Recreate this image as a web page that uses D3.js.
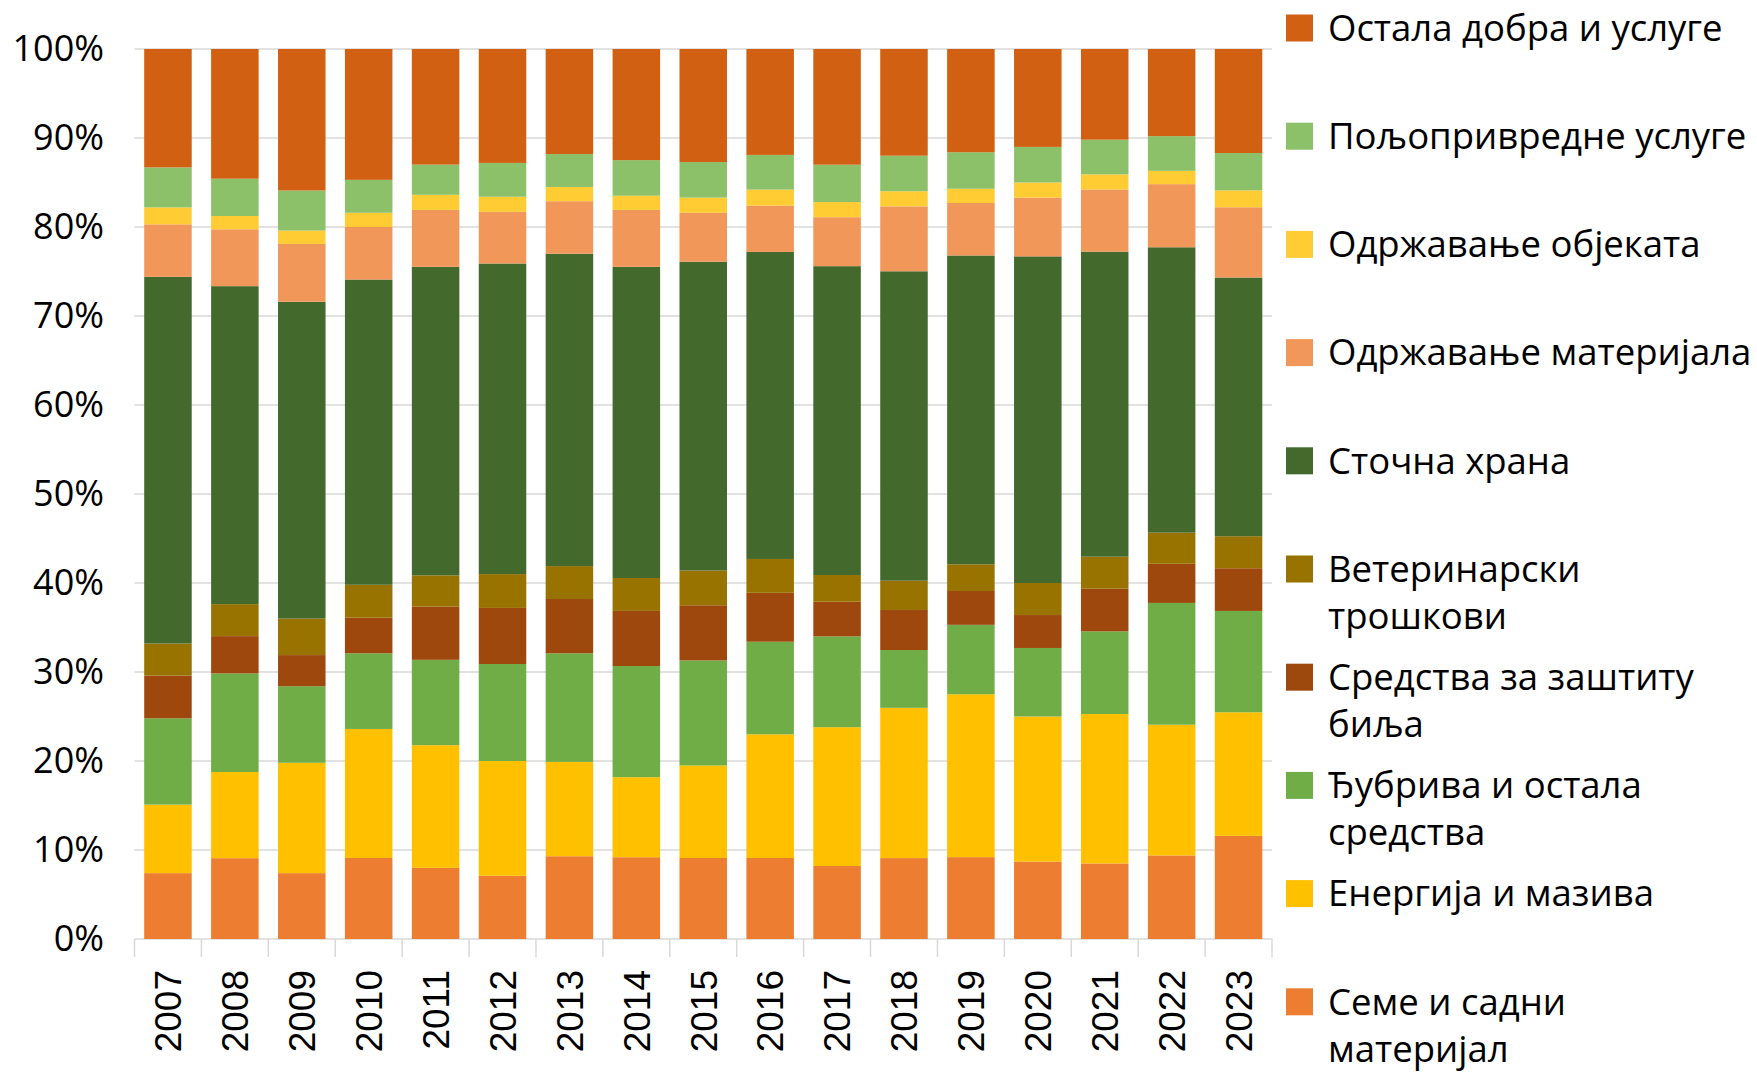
<!DOCTYPE html>
<html>
<head>
<meta charset="utf-8">
<script src="https://cdn.jsdelivr.net/npm/d3@7"></script>
<style>
  body { margin: 0; background: #fff; }
  svg { display: block; font-family: "Open Sans", sans-serif; }
</style>
</head>
<body>
<svg id="chart" width="1757" height="1075"></svg>
<script>
const years = ["2007", "2008", "2009", "2010", "2011", "2012", "2013", "2014", "2015",
  "2016", "2017", "2018", "2019", "2020", "2021", "2022", "2023"]

// shares in %, bottom of the stack first
const seme      = [7.4, 9.1, 7.4, 9.1, 8.0, 7.1, 9.3, 9.2, 9.1, 9.1, 8.2, 9.1, 9.2, 8.7, 8.5, 9.4, 11.6]
const energija  = [7.7, 9.7, 12.4, 14.5, 13.8, 12.9, 10.6, 9.0, 10.4, 13.9, 15.6, 16.9, 18.3, 16.3, 16.8, 14.7, 13.9]
const djubriva  = [9.7, 11.1, 8.6, 8.5, 9.6, 10.9, 12.2, 12.5, 11.8, 10.4, 10.2, 6.5, 7.8, 7.7, 9.3, 13.7, 11.4]
const zastita   = [4.8, 4.2, 3.5, 4.0, 6.0, 6.3, 6.1, 6.2, 6.2, 5.5, 3.9, 4.5, 3.8, 3.7, 4.8, 4.4, 4.8]
const veterina  = [3.6, 3.6, 4.1, 3.7, 3.5, 3.8, 3.7, 3.7, 3.9, 3.8, 3.0, 3.3, 3.0, 3.6, 3.6, 3.5, 3.6]
const hrana     = [41.2, 35.8, 35.6, 34.3, 34.7, 34.9, 35.1, 35.0, 34.7, 34.5, 34.7, 34.8, 34.7, 36.7, 34.3, 32.1, 29.1]
const materijal = [5.9, 6.4, 6.5, 5.9, 6.4, 5.8, 5.9, 6.4, 5.5, 5.2, 5.5, 7.3, 5.9, 6.6, 7.0, 7.1, 7.9]
const objekti   = [1.9, 1.5, 1.5, 1.6, 1.7, 1.7, 1.6, 1.6, 1.7, 1.8, 1.7, 1.7, 1.6, 1.7, 1.7, 1.5, 1.9]
const usluge    = [4.5, 4.2, 4.5, 3.7, 3.4, 3.8, 3.7, 4.0, 4.0, 3.9, 4.2, 4.0, 4.1, 4.0, 3.9, 3.9, 4.2]
const ostalo    = [13.3, 14.6, 15.9, 14.7, 13.0, 12.8, 11.8, 12.5, 12.7, 11.9, 13.0, 12.0, 11.6, 11.0, 10.2, 9.8, 11.7]

const keys = ["seme", "energija", "djubriva", "zastita", "veterina", "hrana", "materijal", "objekti", "usluge", "ostalo"]
const seriesValues = [seme, energija, djubriva, zastita, veterina, hrana, materijal, objekti, usluge, ostalo]
const labels = [
  ["Семе и садни", "материјал"],
  ["Енергија и мазива"],
  ["Ђубрива и остала", "средства"],
  ["Средства за заштиту", "биља"],
  ["Ветеринарски", "трошкови"],
  ["Сточна храна"],
  ["Одржавање материјала"],
  ["Одржавање објеката"],
  ["Пољопривредне услуге"],
  ["Остала добра и услуге"]
]
const colors = ["#ED7D31", "#FFC000", "#70AD47", "#9E480E", "#987300",
  "#44692D", "#F1975A", "#FFCC33", "#8DC169", "#D16012"]

const table = years.map((y, i) => {
  const row = { year: y }
  keys.forEach((k, j) => row[k] = seriesValues[j][i])
  return row
})

const stacked = d3.stack()
  .keys(keys)
  .offset(d3.stackOffsetExpand)(table)

const svg = d3.select("#chart")

const x = d3.scaleBand()
  .domain(years)
  .range([134.5, 1272])
  .paddingInner(0.29)
  .paddingOuter(0.145)

const y = d3.scaleLinear()
  .domain([0, 1])
  .range([939, 49])

const color = d3.scaleOrdinal().domain(keys).range(colors)

// gridlines
svg.append("g")
  .selectAll("line")
  .data(y.ticks(10))
  .join("line")
    .attr("x1", 134.5)
    .attr("x2", 1272)
    .attr("y1", d => y(d))
    .attr("y2", d => y(d))
    .attr("stroke", "#D9D9D9")
    .attr("stroke-width", 1.5)

// y axis labels
const yAxis = svg.append("g")
  .attr("transform", "translate(106,0)")
  .call(d3.axisLeft(y).ticks(10).tickFormat(d3.format(".0%")).tickSize(0).tickPadding(2))
yAxis.select(".domain").remove()
yAxis.selectAll("text")
  .attr("font-family", "Open Sans")
  .attr("font-size", 36)
  .attr("fill", "#000")

// bars
svg.append("g")
  .selectAll("g")
  .data(stacked)
  .join("g")
    .attr("fill", d => color(d.key))
  .selectAll("rect")
  .data(d => d)
  .join("rect")
    .attr("x", d => x(d.data.year))
    .attr("width", x.bandwidth())
    .attr("y", d => y(d[1]))
    .attr("height", d => y(d[0]) - y(d[1]))

// category axis: boundary ticks like excel
const step = x.step()
const bounds = years.map(yr => x(yr) - step * x.paddingInner() / 2)
bounds.push(1272)
svg.append("g")
  .selectAll("line")
  .data(bounds)
  .join("line")
    .attr("x1", d => d)
    .attr("x2", d => d)
    .attr("y1", 939)
    .attr("y2", 957)
    .attr("stroke", "#D9D9D9")
    .attr("stroke-width", 1.5)

svg.append("g")
  .selectAll("text")
  .data(years)
  .join("text")
    .attr("transform", d => `translate(${x(d) + x.bandwidth() / 2},970) rotate(-90)`)
    .attr("text-anchor", "end")
    .attr("dy", "0.36em")
    .attr("font-family", "Liberation Sans, Arial, sans-serif")
    .attr("font-size", 37)
    .attr("fill", "#000")
    .text(d => d)

// legend, top entry is the last series
const legendOrder = d3.range(keys.length).reverse()
const legend = svg.append("g")
  .selectAll("g")
  .data(legendOrder)
  .join("g")
    .attr("transform", (d, i) => `translate(1286,${28 + i * 108.2})`)

legend.append("rect")
  .attr("y", -13.5)
  .attr("width", 27)
  .attr("height", 27)
  .attr("fill", d => colors[d])

legend.append("text")
  .attr("x", 42)
  .attr("font-size", 36.5)
  .attr("fill", "#000")
  .selectAll("tspan")
  .data(d => labels[d])
  .join("tspan")
    .attr("x", 42)
    .attr("y", (d, j) => j * 47)
    .attr("dy", "0.35em")
    .text(d => d)
</script>
</body>
</html>
